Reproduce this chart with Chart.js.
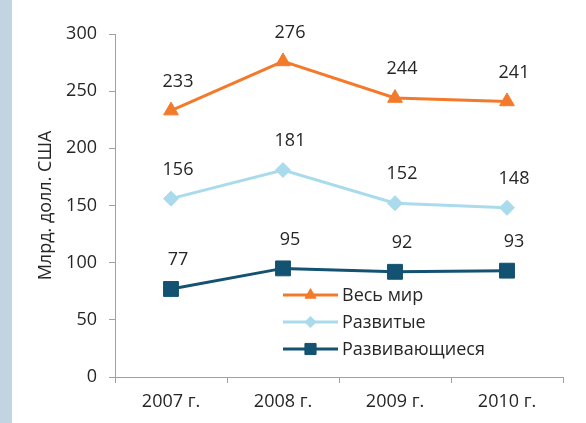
<!DOCTYPE html>
<html>
<head>
<meta charset="utf-8">
<script src="https://cdn.jsdelivr.net/npm/chart.js@4.4.1/dist/chart.umd.min.js"></script>
<style>
  html, body { margin: 0; padding: 0; background: #fff; }
  #wrap { width: 586px; height: 423px; position: relative; }
</style>
</head>
<body>
<div id="wrap"><canvas id="c" width="586" height="423"></canvas></div>
<script>
// data
var years = ['2007 г.', '2008 г.', '2009 г.', '2010 г.'];
var world = [233, 276, 244, 241];
var developed = [156, 181, 152, 148];
var developing = [77, 95, 92, 93];
var seriesNames = ['Весь мир', 'Развитые', 'Развивающиеся'];
var yTitle = 'Млрд. долл. США';

var FONT = '"Open Sans", "Noto Sans", sans-serif';
var TEXT = '#262626';
var AXIS = '#a0a0a0';

function series(label, data, color, style, radius) {
    return {
        label: label,
        data: data,
        borderColor: color,
        backgroundColor: color,
        borderWidth: 3,
        pointStyle: style,
        pointRadius: radius,
        pointHoverRadius: radius,
        pointBorderWidth: 1,
        tension: 0
    };
}

// blue stripe at the left edge
var stripe = {
    id: 'stripe',
    beforeDraw: function(chart) {
        var ctx = chart.ctx;
        ctx.save();
        ctx.fillStyle = '#c3d4e1';
        ctx.fillRect(0, 0, 12, chart.height);
        ctx.restore();
    }
};

// value labels above each point, slightly right like in the source
var valueLabels = {
    id: 'valueLabels',
    afterDatasetsDraw: function(chart) {
        var ctx = chart.ctx;
        ctx.save();
        ctx.font = '18px ' + FONT;
        ctx.fillStyle = TEXT;
        ctx.textAlign = 'center';
        ctx.textBaseline = 'middle';
        chart.data.datasets.forEach(function(ds, i) {
            chart.getDatasetMeta(i).data.forEach(function(pt, j) {
                ctx.fillText(String(ds.data[j]), pt.x + 7, pt.y - 29);
            });
        });
        ctx.restore();
    }
};

// legend inside the plot area, markers a bit smaller than on the lines
var innerLegend = {
    id: 'innerLegend',
    afterDraw: function(chart) {
        var ctx = chart.ctx;
        var x0 = 283, x1 = 338, top = 295, step = 27;
        ctx.save();
        chart.data.datasets.forEach(function(ds, i) {
            var y = top + i * step;
            ctx.strokeStyle = ds.borderColor;
            ctx.lineWidth = ds.borderWidth;
            ctx.beginPath();
            ctx.moveTo(x0, y);
            ctx.lineTo(x1, y);
            ctx.stroke();
            ctx.fillStyle = ds.backgroundColor;
            ctx.lineWidth = 1;
            Chart.helpers.drawPoint(ctx, {
                pointStyle: ds.pointStyle,
                radius: ds.pointRadius * 0.75,
                borderWidth: 1,
                rotation: 0
            }, (x0 + x1) / 2, y);
            ctx.fillStyle = TEXT;
            ctx.font = '18px ' + FONT;
            ctx.textAlign = 'left';
            ctx.textBaseline = 'middle';
            ctx.fillText(ds.label, x1 + 4, y + 1);
        });
        ctx.restore();
    }
};

new Chart(document.getElementById('c'), {
    type: 'line',
    data: {
        labels: years,
        datasets: [
            series(seriesNames[0], world, '#f47a2b', 'triangle', 8.5),
            series(seriesNames[1], developed, '#a9dbec', 'rectRot', 7.5),
            series(seriesNames[2], developing, '#135270', 'rect', 10.5)
        ]
    },
    options: {
        responsive: false,
        animation: false,
        layout: { padding: { left: 12, right: 23, top: 34, bottom: 0 } },
        plugins: {
            legend: { display: false },
            tooltip: { enabled: false }
        },
        scales: {
            x: {
                offset: true,
                grid: {
                    offset: true,
                    drawOnChartArea: false,
                    drawTicks: true,
                    tickLength: 6,
                    color: AXIS
                },
                border: { color: AXIS, width: 1 },
                ticks: { color: TEXT, font: { size: 18, family: FONT }, padding: 8, maxRotation: 0 },
                afterFit: function(s) { s.height = 46; }
            },
            y: {
                min: 0,
                max: 300,
                ticks: { stepSize: 50, color: TEXT, font: { size: 18, family: FONT }, padding: 12 },
                grid: {
                    drawOnChartArea: false,
                    drawTicks: true,
                    tickLength: 6,
                    color: AXIS
                },
                border: { color: AXIS, width: 1 },
                title: {
                    display: true,
                    text: yTitle,
                    color: TEXT,
                    font: { size: 18, family: FONT },
                    padding: { top: 23, bottom: 0 }
                },
                afterFit: function(s) { s.width = 103; }
            }
        }
    },
    plugins: [stripe, valueLabels, innerLegend]
});
</script>
</body>
</html>
